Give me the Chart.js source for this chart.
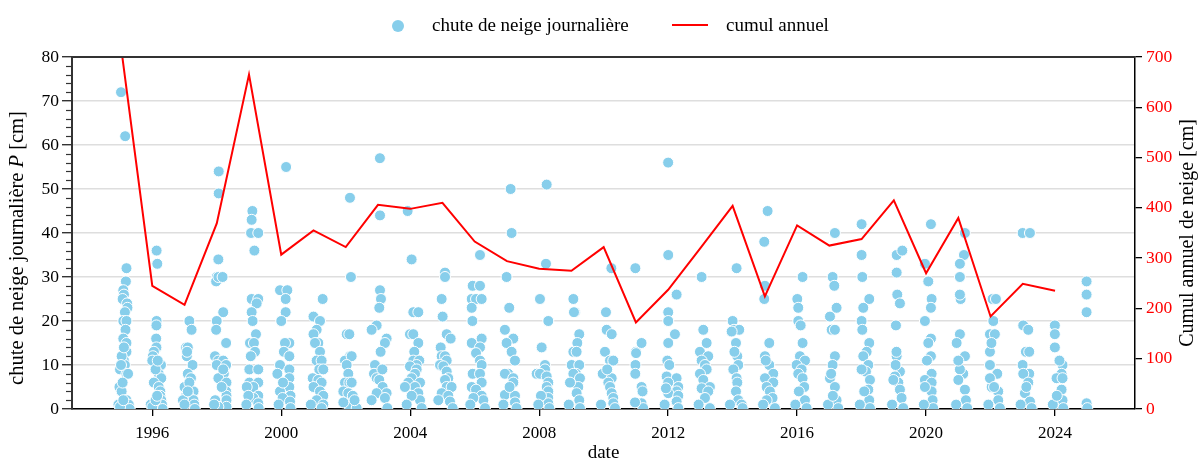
<!DOCTYPE html>
<html>
<head>
<meta charset="utf-8">
<script src="https://cdn.jsdelivr.net/npm/chart.js@4.4.1/dist/chart.umd.min.js"></script>
<style>
  html, body { margin: 0; padding: 0; background: #fff; }
  canvas { display: block; }
</style>
</head>
<body>
<canvas id="snow-chart" width="1200" height="463"></canvas>
<script>
// winters, each point is [day from 1 Jan of that year, cm]
var snow1995 = [[11,72],[58,62],[73,32],[66,29],[37,27],[44,26],[29,25],[80,24],[84,23],[55,22],[37,20],[73,20],[62,18],[37,16],[73,15],[73,13],[44,11],[55,10],[0,9],[73,8],[91,8],[-7,5],[18,4],[73,2],[99,1],[110,0],[-18,1],[0,0.5],[37,2],[29,6],[18,12],[44,14],[11,10]];
var snow1996 = [[49,36],[57,33],[49,20],[47,19],[44,16],[47,14],[18,13],[7,12],[0,11],[99,10],[73,8],[102,7],[18,6],[73,5],[91,4],[91,3],[102,2],[110,1],[117,0],[-18,1],[0,0.5],[37,2],[55,3],[37,9],[62,11]];
var snow1997 = [[55,20],[80,18],[18,14],[37,14],[26,12],[91,10],[37,8],[73,7],[0,5],[102,4],[18,3],[44,3],[102,2],[110,1],[117,0],[-18,2],[0,1],[55,6],[37,4],[29,13]];
var snow1998 = [[22,54],[22,49],[18,34],[0,30],[-7,29],[18,30],[66,30],[73,22],[0,20],[-7,18],[106,15],[-20,12],[18,11],[73,11],[0,10],[106,10],[80,8],[18,7],[110,6],[106,4],[110,3],[110,2],[-18,2],[110,0.5],[18,0.5],[55,5],[73,9],[-30,1]];
var snow1999 = [[38,45],[30,43],[23,40],[105,40],[61,36],[30,25],[105,25],[87,24],[30,22],[41,20],[79,17],[11,15],[56,15],[68,13],[4,9],[105,9],[4,6],[105,6],[49,5],[105,3],[49,2.5],[105,1.3],[110,0.2],[-26,5],[-8,3],[-30,1],[20,12]];
var snow2000 = [[55,55],[-14,27],[69,27],[50,25],[50,22],[0,20],[92,15],[42,15],[30,13],[92,12],[-14,10],[92,9],[-44,8],[92,7],[92,5],[-14,4],[105,3],[15,2.5],[99,1.7],[105,0.2],[-30,1],[20,6]];
var snow2001 = [[0,21],[74,20],[104,25],[36,18],[0,17],[55,15],[17,15],[74,13],[36,11],[92,11],[66,9],[111,9],[-9,7],[55,6.6],[92,6],[0,5],[74,4],[111,3],[36,2],[111,1],[92,0.2],[-30,1]];
var snow2002 = [[48,48],[59,30],[11,17],[41,17],[18,11],[48,12],[-8,11],[67,12],[11,10],[29,8],[-8,6],[41,6],[67,6],[-27,4],[29,3.6],[86,1.3],[29,1],[124,0.2],[-27,1.5],[80,3],[100,2]];
var snow2003 = [[22,57],[23,44],[23,27],[34,25],[15,23],[-15,19],[-72,18],[98,16],[79,15],[30,13],[-34,10],[-45,8],[-15,7],[15,6.6],[53,5],[98,3.6],[-15,3.6],[79,2.5],[106,0.2],[-72,2],[50,9]];
var snow2004 = [[-29,45],[16,34],[35,22],[92,22],[-3,17],[35,17],[92,15],[46,13],[35,11],[103,11],[73,10],[-3,9.7],[73,9],[54,8],[16,7],[111,6],[-22,6],[54,5],[92,3.6],[111,2],[16,3],[130,0.2],[-60,5],[-40,1]];
var snow2005 = [[29,31],[29,30],[-9,25],[2,21],[48,17],[93,16],[-20,14],[-9,12],[29,12],[48,11],[-28,10],[10,9.7],[48,8.5],[66,7],[29,6.6],[48,5],[104,5],[-9,3.6],[66,3],[85,1.7],[116,0.2],[-47,2]];
var snow2006 = [[60,35],[-23,28],[60,28],[-34,25],[15,25],[79,25],[-34,23],[-26,20],[-34,15],[79,16],[60,14],[15,12.7],[60,11],[79,10],[-23,8],[60,8],[79,6],[-34,5],[15,4.4],[79,3],[98,2],[-15,2.5],[117,0.2],[-50,1]];
var snow2007 = [[42,50],[53,40],[-4,30],[26,23],[-23,18],[72,16],[-4,15],[53,13],[91,11],[15,8],[-23,8],[72,7],[72,6],[-23,3.2],[91,3],[91,1.5],[109,0.2],[30,5],[-40,1]];
var snow2008 = [[85,51],[77,33],[9,25],[103,20],[28,14],[66,10],[-29,8],[66,9],[9,8],[85,7.4],[103,6],[85,5],[103,4],[103,2.5],[103,1.3],[115,0.2],[20,3],[-10,1]];
var snow2009 = [[22,25],[40,22],[29,22],[89,17],[67,15],[22,13],[59,13],[3,10],[89,10],[52,8],[22,8],[97,7],[78,5],[59,3.6],[89,2],[97,0.2],[-16,6],[-30,1]];
var snow2010 = [[87,32],[26,22],[34,18],[91,17],[15,13],[72,11],[109,11],[-11,8],[91,7],[53,6],[72,5],[91,3.6],[109,2.5],[109,1.3],[128,0.2],[-30,1],[40,9]];
var snow2011 = [[-6,32],[0,13],[2,12.7],[-5,10],[-7,8],[64,15],[64,5],[75,4],[64,1.3],[83,0.2],[-10,1.5]];
var snow2012 = [[0,56],[1,35],[1,22],[1,20],[96,26],[77,17],[1,15],[-9,11],[13,10],[-17,7.4],[96,7],[1,6],[115,5],[96,4],[1,3.6],[115,3],[96,1.7],[115,0.2],[-25,4.7],[-40,1]];
var snow2013 = [[14,30],[33,18],[71,15],[-5,13],[89,12],[14,11],[52,10],[71,9],[-5,8],[33,6.6],[108,5],[14,4.7],[89,4],[52,2.5],[108,0.2],[-20,1]];
var snow2014 = [[45,32],[0,20],[15,18],[75,18],[38,15],[53,12],[64,10],[8,9],[45,7],[53,6],[38,4],[64,2],[102,1],[113,0.2],[-11,17.6],[-30,1],[20,13]];
var snow2015 = [[31,45],[-7,38],[1,28],[-7,25],[50,15],[1,12],[50,10],[95,8],[1,7],[95,6],[20,5],[57,4],[87,2.5],[20,2],[114,0.2],[10,11],[-20,1]];
var snow2016 = [[62,30],[2,25],[13,23],[13,20],[40,19],[62,15],[32,12],[89,11],[-6,10],[51,9],[13,8],[62,7],[81,5],[89,2],[108,0.2],[20,4],[-20,1]];
var snow2017 = [[63,40],[37,30],[56,28],[82,23],[7,21],[26,18],[63,18],[63,12],[37,10],[7,7],[63,5],[82,2],[101,0.2],[20,8],[-15,1],[40,3]];
var snow2018 = [[0,42],[0,35],[8,30],[87,25],[19,23],[0,20],[8,18],[87,15],[57,13],[19,12],[76,10],[49,8.5],[95,6.6],[76,4.4],[87,2],[95,0.2],[0,9],[-20,1],[30,4]];
var snow2019 = [[32,35],[96,36],[32,31],[39,26],[69,24],[24,19],[32,12],[69,8.5],[13,7.4],[51,6],[69,4.4],[88,2.5],[107,0.2],[-6,6.6],[20,10],[-20,1],[30,13]];
var snow2020 = [[55,42],[-13,33],[25,29],[63,25],[55,23],[-13,20],[55,16],[25,15],[55,12],[63,8],[-13,6.6],[63,6],[63,4],[74,2],[-13,5],[81,0.2],[10,11],[-25,1]];
var snow2021 = [[75,40],[64,35],[18,33],[18,30],[26,25],[18,26],[18,17],[-19,15],[75,12],[56,8],[18,9],[0,6.6],[75,4.4],[86,2],[101,0.2],[0,11],[-25,1]];
var snow2022 = [[23,25],[61,25],[31,20],[-7,17],[49,17],[-7,13],[-7,10],[76,8],[12,5],[87,4],[87,2],[106,0.2],[-7,7],[10,15],[-25,1],[40,5]];
var snow2023 = [[-2,40],[81,40],[5,19],[62,18],[35,13],[73,13],[-2,10],[73,8],[5,8],[62,6],[24,3.6],[81,1.7],[100,0.2],[-25,1],[40,5]];
var snow2024 = [[-2,19],[-2,17],[-2,14],[85,10],[74,8],[17,7],[85,7],[74,4.4],[85,2],[93,0.2],[-25,1],[20,3],[50,11]];
var snow2025 = [[-8,29],[-8,26],[-8,22],[-8,1.3],[0,0.2]];

var seasons = [1995, 1996, 1997, 1998, 1999, 2000, 2001, 2002, 2003, 2004, 2005, 2006, 2007, 2008, 2009, 2010,
               2011, 2012, 2013, 2014, 2015, 2016, 2017, 2018, 2019, 2020, 2021, 2022, 2023, 2024, 2025];
var seasonData = [snow1995, snow1996, snow1997, snow1998, snow1999, snow2000, snow2001, snow2002, snow2003, snow2004,
                  snow2005, snow2006, snow2007, snow2008, snow2009, snow2010, snow2011, snow2012, snow2013, snow2014,
                  snow2015, snow2016, snow2017, snow2018, snow2019, snow2020, snow2021, snow2022, snow2023, snow2024, snow2025];

// annual totals, dated 1 Jan
var cumulYears = [1995, 1996, 1997, 1998, 1999, 2000, 2001, 2002, 2003, 2004, 2005, 2006, 2007, 2008, 2009,
                  2010, 2011, 2012, 2013, 2014, 2015, 2016, 2017, 2018, 2019, 2020, 2021, 2022, 2023, 2024];
var cumulCm = [735, 245, 207, 369, 665, 307, 355, 322, 406, 398, 410, 333, 294, 279, 275,
               322, 172, 237, 320, 404, 224, 365, 325, 338, 415, 270, 380, 184, 249, 235];

var xTicks = [1996, 2000, 2004, 2008, 2012, 2016, 2020, 2024];

var serif = "'Liberation Serif', 'DejaVu Serif', serif";
var skyblue = '#87ceeb';
var red = '#ff0000';

var snowPoints = [];
seasons.forEach(function (yr, i) {
	seasonData[i].forEach(function (p) {
		snowPoints.push({ x: yr + p[0] / 365.25, y: p[1] });
	});
});
var cumulPoints = cumulYears.map(function (yr, i) { return { x: yr, y: cumulCm[i] }; });

// titles, legend, top spine and minor ticks
var decor = {
	id: 'decor',
	afterDraw: function (chart) {
		var ctx = chart.ctx, a = chart.chartArea, ys = chart.scales.y;
		ctx.save();

		ctx.strokeStyle = '#333';
		ctx.lineWidth = 2;
		ctx.beginPath();
		ctx.moveTo(a.left - 1, a.top);
		ctx.lineTo(a.right, a.top);
		ctx.stroke();

		ctx.lineWidth = 1.2;
		for (var v = 2; v < 80; v += 2) {
			if (v % 10 === 0) continue;
			var py = Math.round(ys.getPixelForValue(v)) + 0.5;
			ctx.beginPath();
			ctx.moveTo(a.left - 6, py);
			ctx.lineTo(a.left, py);
			ctx.stroke();
		}

		ctx.fillStyle = '#000';
		ctx.textBaseline = 'middle';

		// legend
		ctx.font = '19px ' + serif;
		ctx.beginPath();
		ctx.arc(398, 26, 6, 0, Math.PI * 2);
		ctx.fillStyle = skyblue;
		ctx.fill();
		ctx.fillStyle = '#000';
		ctx.textAlign = 'left';
		ctx.fillText('chute de neige journalière', 432, 26);
		ctx.strokeStyle = red;
		ctx.lineWidth = 2;
		ctx.beginPath();
		ctx.moveTo(672, 25);
		ctx.lineTo(708, 25);
		ctx.stroke();
		ctx.fillText('cumul annuel', 726, 26);

		// x title
		ctx.textAlign = 'center';
		ctx.fillText('date', (a.left + a.right) / 2, 453);

		// left title with italic P
		var fs = '20.5px ';
		var parts = [['chute de neige journalière ', ''], ['P', 'italic '], [' [cm]', '']];
		var total = 0;
		parts.forEach(function (p) { ctx.font = p[1] + fs + serif; p.push(ctx.measureText(p[0]).width); total += p[2]; });
		ctx.save();
		ctx.translate(18, (a.top + a.bottom) / 2 + 15);
		ctx.rotate(-Math.PI / 2);
		ctx.textAlign = 'left';
		var tx = -total / 2;
		parts.forEach(function (p) { ctx.font = p[1] + fs + serif; ctx.fillText(p[0], tx, 0); tx += p[2]; });
		ctx.restore();

		// right title
		ctx.save();
		ctx.font = '20px ' + serif;
		ctx.translate(1188, (a.top + a.bottom) / 2);
		ctx.rotate(-Math.PI / 2);
		ctx.textAlign = 'center';
		ctx.fillText('Cumul annuel de neige [cm]', 0, 0);
		ctx.restore();

		ctx.restore();
	}
};

Chart.defaults.font.family = serif;

var ctx = document.getElementById('snow-chart').getContext('2d');
var snowChart = new Chart(ctx, {
	data: {
		datasets: [{
			type: 'scatter',
			label: 'chute de neige journalière',
			data: snowPoints,
			backgroundColor: skyblue,
			borderColor: '#ffffff',
			borderWidth: 1,
			pointRadius: 5.5,
			yAxisID: 'y',
			order: 2
		}, {
			type: 'line',
			label: 'cumul annuel',
			data: cumulPoints,
			borderColor: red,
			borderWidth: 2,
			pointRadius: 0,
			tension: 0,
			fill: false,
			yAxisID: 'y2',
			order: 1
		}]
	},
	options: {
		responsive: false,
		animation: false,
		events: [],
		layout: { padding: { top: 57 } },
		plugins: { legend: { display: false }, tooltip: { enabled: false } },
		scales: {
			x: {
				type: 'linear',
				min: 1993.51,
				max: 2026.48,
				afterBuildTicks: function (s) { s.ticks = xTicks.map(function (v) { return { value: v }; }); },
				afterFit: function (s) { s.height = 54; },
				ticks: {
					autoSkip: false, maxRotation: 0, padding: 7, color: '#000',
					font: { size: 17 },
					callback: function (v) { return String(v); }
				},
				grid: { drawOnChartArea: false, tickLength: 7, tickColor: '#000', lineWidth: 1.3 },
				border: { color: '#000', width: 1.5 }
			},
			y: {
				position: 'left',
				min: 0,
				max: 80,
				afterFit: function (s) { s.width = 72; },
				ticks: {
					stepSize: 2, autoSkip: false, padding: 3, color: '#000',
					font: { size: 17.5 },
					callback: function (v) { return v % 10 === 0 ? v : ''; }
				},
				grid: {
					tickLength: 10,
					lineWidth: 1.4,
					color: function (c) { return c.tick && c.tick.value % 10 === 0 ? '#dedede' : 'rgba(0,0,0,0)'; },
					tickColor: function (c) { return c.tick && c.tick.value % 10 === 0 ? '#333' : 'rgba(0,0,0,0)'; }
				},
				border: { color: '#333', width: 2 }
			},
			y2: {
				position: 'right',
				min: 0,
				max: 700,
				afterFit: function (s) { s.width = 65; },
				ticks: { stepSize: 100, padding: 4, color: red, font: { size: 17.5 } },
				grid: { drawOnChartArea: false, tickLength: 7, tickColor: '#000', lineWidth: 1.3 },
				border: { color: '#000', width: 1.5 }
			}
		}
	},
	plugins: [decor]
});
</script>
</body>
</html>
